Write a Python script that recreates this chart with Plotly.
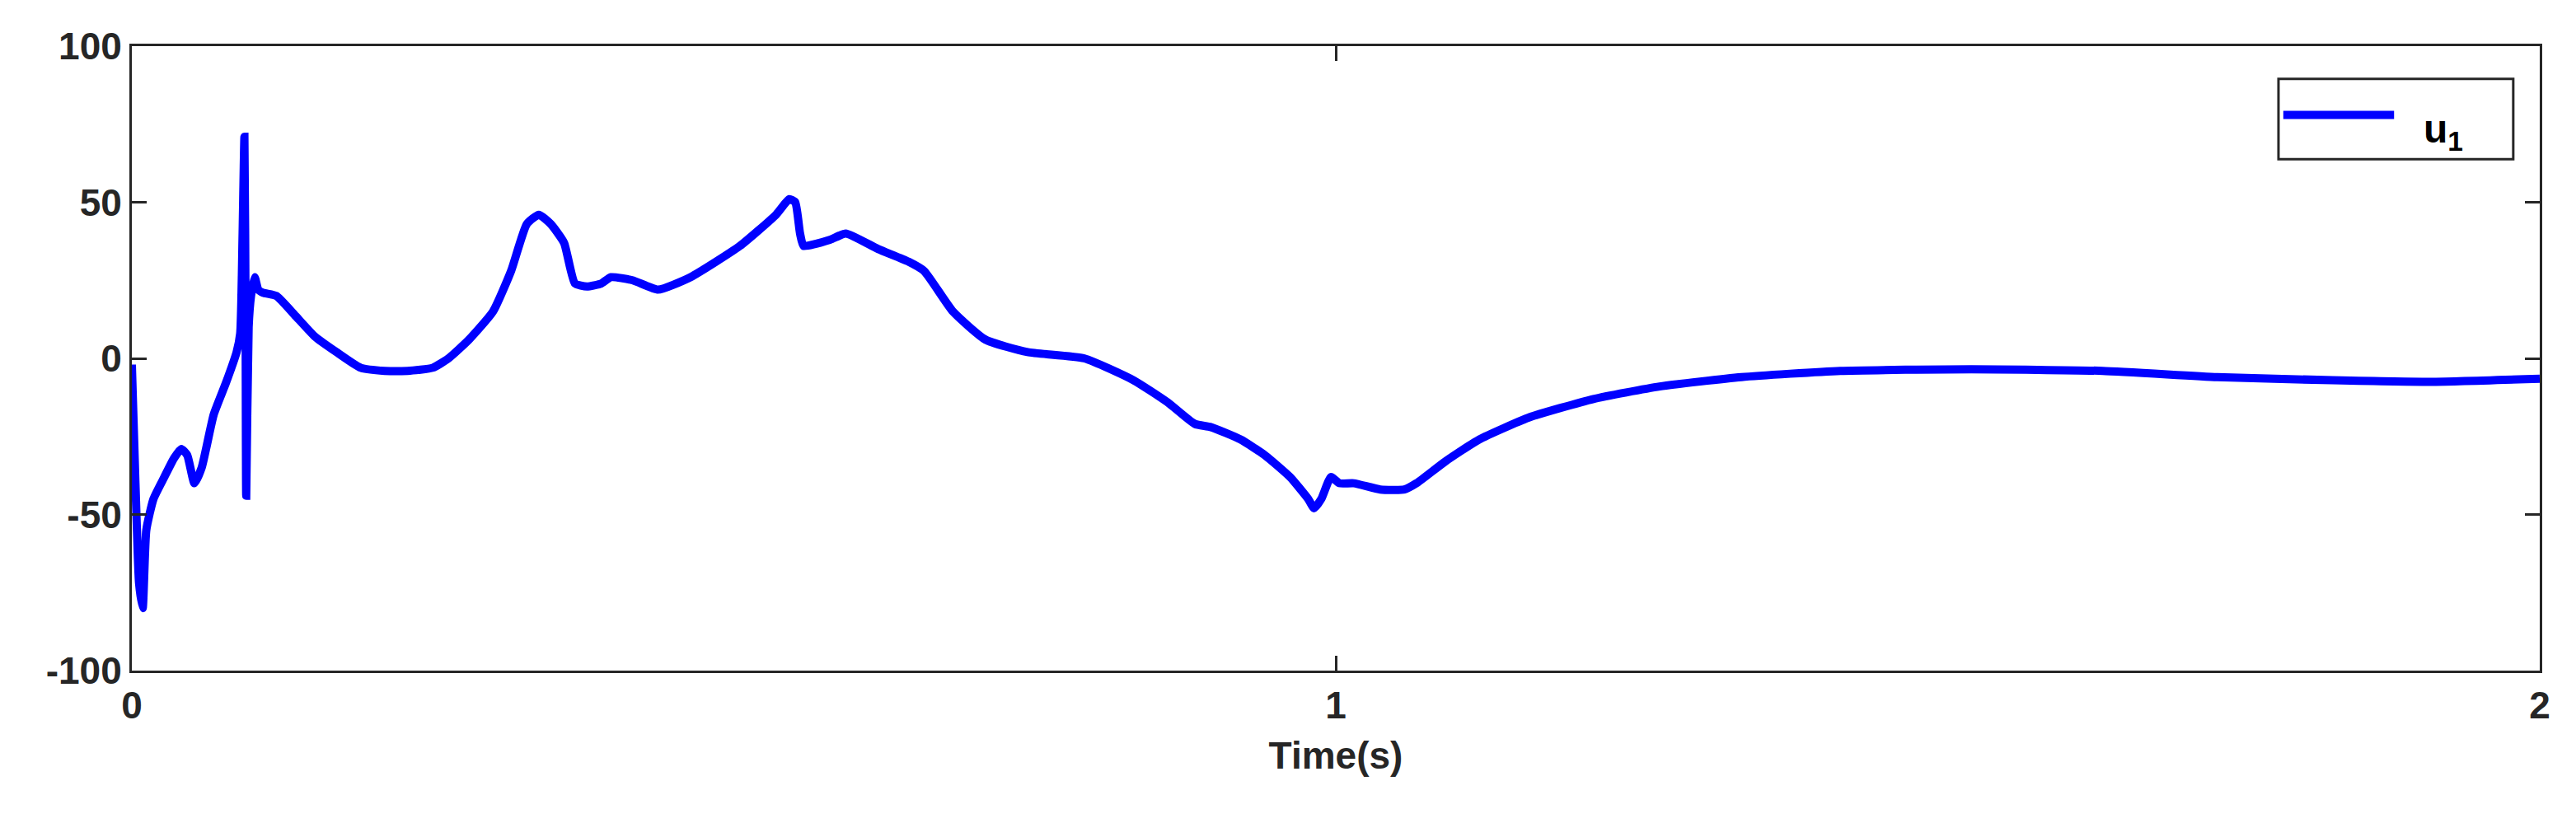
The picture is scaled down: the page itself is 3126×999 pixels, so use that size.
import plotly.graph_objects as go

t = [0, 0.003, 0.006, 0.009, 0.012, 0.018, 0.027, 0.035, 0.041, 0.046, 0.052, 0.058, 0.068, 0.078, 0.087, 0.09,
     0.092, 0.0935, 0.0945, 0.095, 0.097, 0.099, 0.102, 0.105, 0.109, 0.12, 0.135, 0.152, 0.17, 0.19, 0.21, 0.229,
     0.25, 0.263, 0.28, 0.30, 0.315, 0.328, 0.338, 0.348, 0.359, 0.368, 0.378, 0.39, 0.398, 0.416, 0.437, 0.464,
     0.505, 0.535, 0.546, 0.551, 0.555, 0.558, 0.58, 0.593, 0.62, 0.645, 0.658, 0.682, 0.709, 0.744, 0.791, 0.832,
     0.86, 0.883, 0.896, 0.921, 0.941, 0.962, 0.977, 0.982, 0.988, 0.996, 1.003, 1.015, 1.037, 1.057, 1.067, 1.091,
     1.119, 1.16, 1.214, 1.269, 1.337, 1.419, 1.528, 1.637, 1.732, 1.828, 1.91, 2.0]
u1 = [-2, -40, -72, -80, -55, -45, -38, -32, -29, -31, -40, -35, -18, -8, 2, 8,
      40, 71, 10, -44, 10, 20, 26, 22, 21, 20, 14, 7, 2, -3, -4, -4,
      -3, 0, 6, 15, 28, 43, 46, 43, 37, 24, 23, 24, 26, 25, 22, 26,
      36, 46, 51, 50, 40, 36, 38, 40, 35, 31, 28, 15, 6, 2, 0, -7,
      -14, -21, -22, -26, -31, -38, -45, -48, -45, -38, -40, -40, -42, -42, -40, -33,
      -26, -19, -13, -9, -6, -4, -3.5, -4, -6, -7, -7.5, -6.5]

font = dict(family="Liberation Sans, Arial", size=46, color="#262626")
fig = go.Figure(go.Scatter(x=t, y=u1, mode="lines",
                           line=dict(color="#0000ff", width=10, shape="spline", smoothing=0.5),
                           showlegend=False))

axis_common = dict(showgrid=False, zeroline=False, showline=True, linecolor="#262626", linewidth=3,
                   mirror="ticks", ticks="inside", ticklen=18, tickwidth=3, tickcolor="#262626",
                   tickfont=font)
fig.update_xaxes(range=[0, 2], tickvals=[0, 1, 2], ticktext=["<b>0</b>", "<b>1</b>", "<b>2</b>"],
                 title=dict(text="<b>Time(s)</b>", font=font, standoff=20), **axis_common)
fig.update_yaxes(range=[-100, 100], tickvals=[-100, -50, 0, 50, 100],
                 ticktext=["<b>-100</b>", "<b>-50</b>", "<b>0</b>", "<b>50</b>", "<b>100</b>"], **axis_common)

# legend box drawn manually
fig.add_shape(type="rect", xref="paper", yref="paper", x0=0.8915, x1=0.989, y0=0.819, y1=0.9475,
              line=dict(color="#262626", width=3), fillcolor="white")
fig.add_shape(type="line", xref="paper", yref="paper", x0=0.8935, x1=0.9395, y0=0.89, y1=0.89,
              line=dict(color="#0000ff", width=10))
fig.add_annotation(xref="paper", yref="paper", x=0.969, y=0.905, showarrow=False,
                   text="<b>u<sub>1</sub></b>", font=dict(family="Liberation Sans, Arial", size=48, color="black"))

fig.update_layout(width=3126, height=999, margin=dict(l=152, r=52, t=48, b=193),
                  plot_bgcolor="white", paper_bgcolor="white")
fig.write_html("out.html")
